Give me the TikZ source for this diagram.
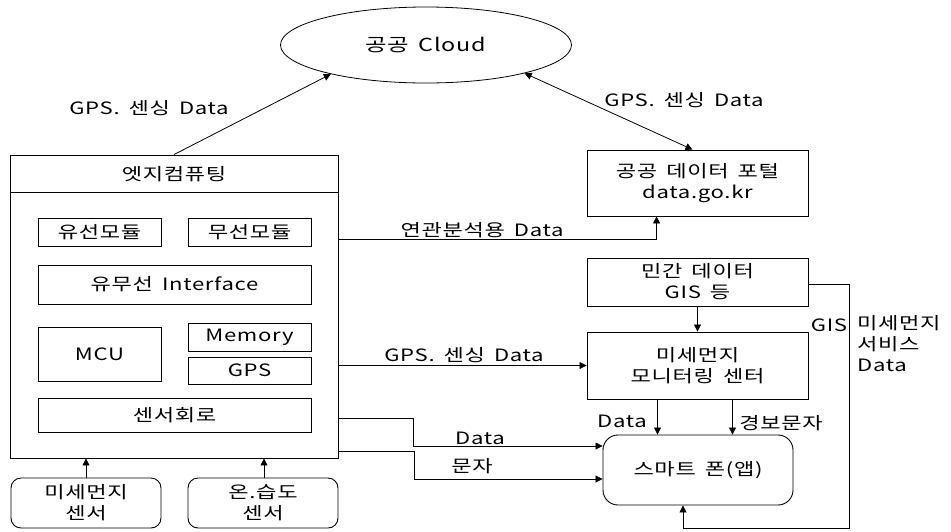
\documentclass[tikz,border=0pt]{standalone}
\usepackage{fontspec}
\setmainfont{Noto Sans CJK KR}[FakeStretch=1.3, WordSpace=1.6, LetterSpace=4]
\usetikzlibrary{arrows.meta,shapes.geometric,calc}
\tikzset{
  box/.style={draw, line width=0.9pt, rectangle, inner sep=0pt, align=center},
  rbox/.style={box, rounded corners=10pt},
  conn/.style={line width=0.8pt},
  arr/.style={conn, -{Triangle[length=7pt,width=7pt]}},
  lbl/.style={inner sep=0pt}
}
\begin{document}
\begin{tikzpicture}[x=1pt,y=-1pt,font=\fontsize{17}{21}\selectfont]
\useasboundingbox (0,0) rectangle (951,531);

% cloud
\node[draw, line width=0.8pt, ellipse, minimum width=291pt, minimum height=76pt, inner sep=0pt, font=\fontsize{18}{21}\selectfont] (cloud) at (426,45) {공공 Cloud};

% edge computing block
\node[box, minimum width=328pt, minimum height=303pt] (edge) at (174,306.5) {};
\draw[line width=0.9pt] ($(edge.north west)+(0,38)$) -- ($(edge.north east)+(0,38)$);
\node[lbl] (edgetitle) at (174,174) {엣지컴퓨팅};
\node[box, minimum width=123pt, minimum height=28pt] (wired) at (99.5,232) {유선모듈};
\node[box, minimum width=123pt, minimum height=28pt] (wireless) at (249.5,232) {무선모듈};
\node[box, minimum width=273pt, minimum height=39pt] (iface) at (174.5,284.5) {유무선 Interface};
\node[box, minimum width=123pt, minimum height=54pt] (mcu) at (99.5,354) {MCU};
\node[box, minimum width=123pt, minimum height=28pt] (mem) at (249.5,337) {Memory};
\node[box, minimum width=123pt, minimum height=27pt] (gps) at (249.5,370.5) {GPS};
\node[box, minimum width=273pt, minimum height=34pt] (sens) at (174.5,415) {센서회로};

% sensors
\node[rbox, minimum width=150pt, minimum height=50pt] (pm) at (86,503) {미세먼지\\센서};
\node[rbox, minimum width=150pt, minimum height=50pt] (th) at (263,503) {온.습도\\센서};
\draw[arr] (pm.north) -- (pm.north |- edge.south);
\draw[arr] ($(th.north)+(1,0)$) -- ($(th.north |- edge.south)+(1,0)$);

% right column
\node[box, minimum width=221pt, minimum height=66pt] (portal) at (697.5,183) {공공 데이터 포털\\data.go.kr};
\node[box, minimum width=221pt, minimum height=48pt] (private) at (697.5,282) {민간 데이터\\GIS 등};
\node[box, minimum width=221pt, minimum height=67pt] (monitor) at (697.5,365.5) {미세먼지\\모니터링 센터};
\node[rbox, rounded corners=15pt, minimum width=190pt, minimum height=70pt] (phone) at (698,470) {스마트 폰(앱)};

% connectors
\draw[arr] (edge.north) -- (cloud.197);
\node[lbl] (l1) at (149,108) {GPS. 센싱 Data};

\draw[conn, {Triangle[length=7pt,width=7pt]}-{Triangle[length=7pt,width=7pt]}] (cloud.-16) -- ($(portal.north)+(-5,0)$);
\node[lbl] (l2) at (684,100) {GPS. 센싱 Data};

\draw[arr] ($(edge.north east)+(0,85)$) -| ($(portal.south west)+(70,0)$);
\node[lbl] (l3) at (482,230) {연관분석용 Data};

\draw[arr] (private.south) -- (monitor.north);

\draw[arr] (edge.east |- monitor.west) -- (monitor.west);
\node[lbl] (l4) at (464,355) {GPS. 센싱 Data};

\draw[arr] ($(monitor.south)+(-40,0)$) -- ($(phone.north)+(-40.5,0)$);
\node[lbl] (l5) at (622,421) {Data};
\draw[arr] ($(monitor.south)+(35,0)$) -- ($(phone.north)+(34.5,0)$);
\node[lbl] (l6) at (781,423) {경보문자};

\draw[arr] ($(edge.north east)+(0,264)$) -- ++(75,0) |- ($(phone.west)+(0,-24)$);
\node[lbl] (l7) at (480,438) {Data};
\draw[arr] ($(edge.north east)+(0,297)$) -- ++(76,0) |- ($(phone.west)+(0,9)$);
\node[lbl] (l8) at (472,466) {문자};

\draw[arr] ($(private.east)+(0,2)$) -- ++(41,0) -- ++(0,244) -| ($(phone.south)+(-15,0)$);
\node[lbl] (l9) at (829,325) {GIS};
\node[lbl, align=left, anchor=north west] (l10) at (857,315) {미세먼지\\서비스\\Data};
\end{tikzpicture}
\end{document}
